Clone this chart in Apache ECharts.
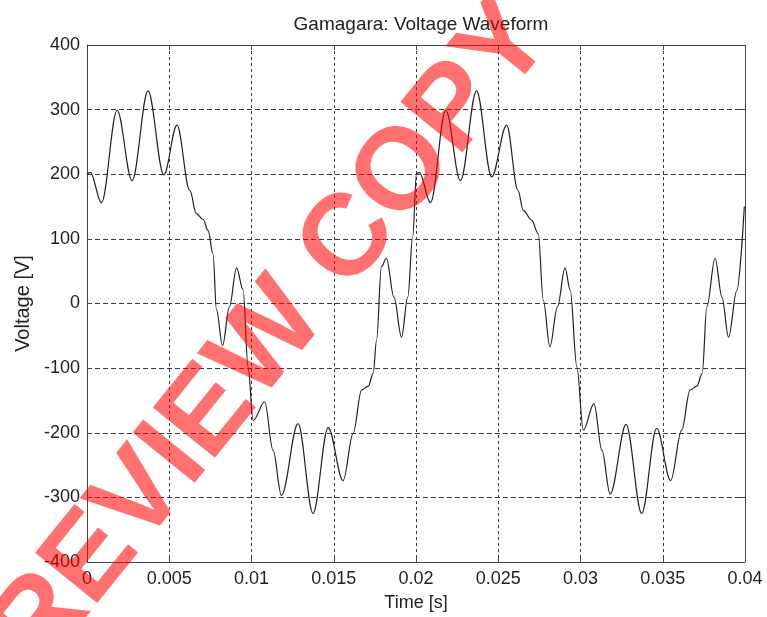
<!DOCTYPE html>
<html>
<head>
<meta charset="utf-8">
<script src="https://cdn.jsdelivr.net/npm/echarts@6/dist/echarts.min.js"></script>
<style>
html,body{margin:0;padding:0;background:#fff;}
#main{width:767px;height:617px;}
</style>
</head>
<body>
<div id="main"></div>
<script>
// 时间轴 (s)
var timeS = [
	0, 0.0002, 0.00088, 0.00183, 0.00274, 0.00371, 0.00467, 0.00547, 0.00625, 0.00665,
	0.00706, 0.00736, 0.00766, 0.00787, 0.00824, 0.00866, 0.00909, 0.00949, 0.00979, 0.0101,
	0.0108, 0.01131, 0.01182, 0.01283, 0.01374, 0.01466, 0.01557, 0.01618, 0.01669, 0.0171,
	0.0174, 0.0176, 0.0179, 0.0182, 0.01866, 0.01912, 0.0195, 0.0198,
	0.02003, 0.0202, 0.02088, 0.02181, 0.0227, 0.02368, 0.0246, 0.02551, 0.0262, 0.02652,
	0.02703, 0.02743, 0.02774, 0.02814, 0.0286, 0.02906, 0.02937, 0.02978, 0.03017, 0.03082,
	0.0313, 0.0318, 0.03277, 0.03372, 0.03463, 0.03548, 0.03615, 0.03666, 0.03707, 0.0374,
	0.03768, 0.03818, 0.0386, 0.039, 0.0395, 0.03996
];
// 电压 (V)
var voltageV = [
	200, 203, 156, 299, 190, 329, 199, 276, 175, 139,
	130, 113, 77, -10, -65, -5, 55, 21, -98, -181,
	-152, -227, -297, -186, -325, -192, -274, -201, -134, -128,
	-108, -57, 57, 70, 10, -52, 10, 103,
	201, 203, 156, 299, 190, 329, 196, 276, 175, 144,
	129, 108, 5, -67, -5, 55, 21, -98, -196, -155,
	-227, -295, -187, -325, -193, -274, -196, -134, -128, -108,
	-5, 70, 10, -52, 20, 150
];
var xTicks = [0, 0.005, 0.01, 0.015, 0.02, 0.025, 0.03, 0.035, 0.04];
var yTicks = [-400, -300, -200, -100, 0, 100, 200, 300, 400];

var FONT = '"Liberation Sans", Arial, sans-serif';
var data = [];
for (var i=0;i<timeS.length;++i) data.push([timeS[i], voltageV[i]]);

// 坐标轴公共样式 (MATLAB风格: 刻度朝内, 虚线网格)
function axisCommon(show, dash, margin) {
	return {
		axisLine  : {show:true, onZero:false, lineStyle:{color:'#444', width:1}},
		axisTick  : {show:true, inside:true, length:5, lineStyle:{color:'#444'}},
		axisLabel : {show:show, color:'#222', fontSize:18, fontFamily:FONT, margin:margin},
		splitLine : {show:show, lineStyle:{color:'#3a3a3a', type:dash, width:1}}
	};
}

var xBase = {type:'value', min:xTicks[0], max:xTicks[xTicks.length-1], interval:0.005};
var yBase = {type:'value', min:yTicks[0], max:yTicks[yTicks.length-1], interval:100};

var xBottom = Object.assign({}, xBase, axisCommon(true, [3,3], 8), {
	position:'bottom', name:'Time [s]', nameLocation:'middle', nameGap:32,
	nameTextStyle:{color:'#222', fontSize:18, fontFamily:FONT}
});
xBottom.axisLabel.formatter = function(v){ return String(parseFloat(v.toFixed(3))); };
var xTop = Object.assign({}, xBase, axisCommon(false, [3,3], 8), {position:'top'});

var yLeft = Object.assign({}, yBase, axisCommon(true, [5,3], 7), {
	position:'left', name:'Voltage [V]', nameLocation:'middle', nameGap:52,
	nameTextStyle:{color:'#222', fontSize:20, fontFamily:FONT}
});
var yRight = Object.assign({}, yBase, axisCommon(false, [5,3], 7), {position:'right'});

var chart = echarts.init(document.getElementById('main'), null, {renderer:'canvas'});
var option = {
	backgroundColor: '#fff',
	animation: false,
	title: {
		text: 'Gamagara: Voltage Waveform',
		left: 416, top: 10, textAlign: 'center',
		textStyle: {color:'#222', fontSize:19, fontWeight:'normal', fontFamily:FONT}
	},
	grid: {left:87, right:22, top:45, bottom:55},
	xAxis: [xBottom, xTop],
	yAxis: [yLeft, yRight],
	series: [{
		type: 'line',
		xAxisIndex: 0, yAxisIndex: 0,
		data: data,
		showSymbol: false,
		smooth: 0.35,
		smoothMonotone: 'x',
		lineStyle: {color:'#222', width:1.2},
		z: 5
	}],
	// 水印
	graphic: [{
		type: 'text',
		x: 248, y: 366,
		rotation: 51*Math.PI/180,
		z: 100,
		style: {
			text: 'PREVIEW COPY',
			font: 'bold 116px ' + FONT,
			fill: 'rgba(255,0,0,0.56)',
			align: 'center',
			verticalAlign: 'middle'
		}
	}]
};
chart.setOption(option);
</script>
</body>
</html>
